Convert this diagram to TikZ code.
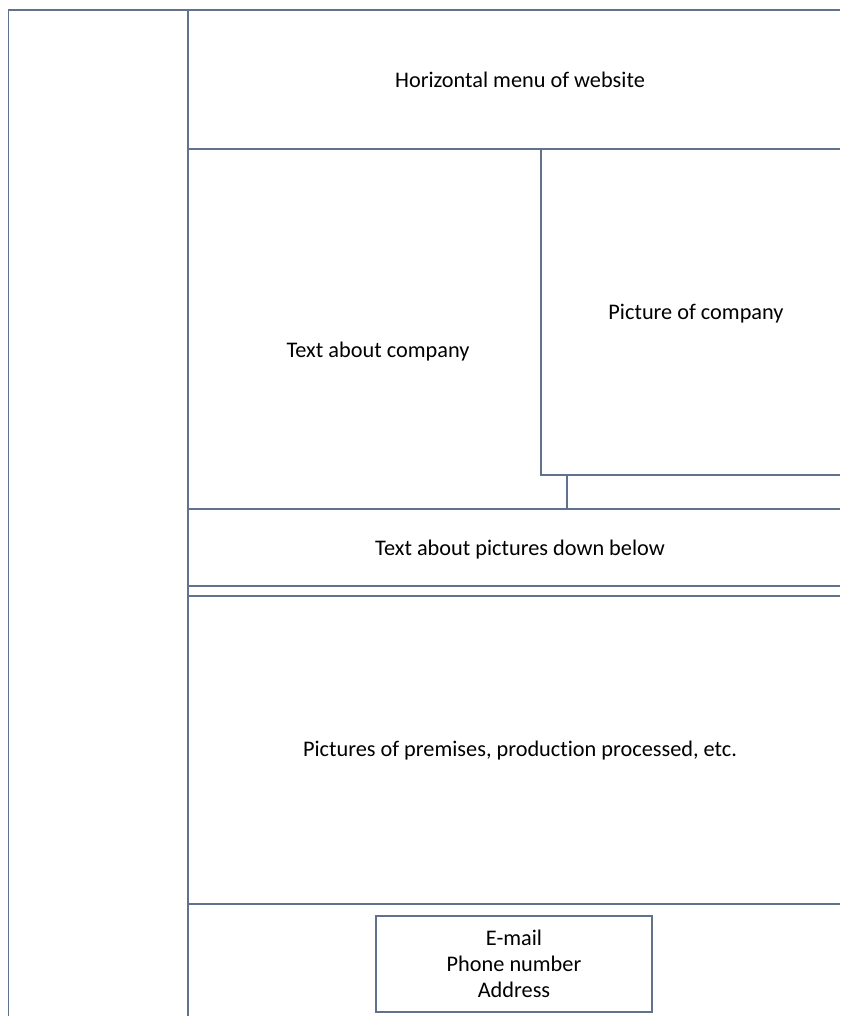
\documentclass[tikz,border=0pt]{standalone}
\usepackage{fontspec}
\setmainfont[Ligatures=NoCommon]{Carlito}
\definecolor{frame}{RGB}{96,114,140}
\begin{document}
\begin{tikzpicture}[x=1pt,y=-1pt,
  rule/.style={draw=frame,line width=1.8pt},
  label/.style={font=\fontsize{22.3}{26}\selectfont,text=black,inner sep=0pt,anchor=center},
  contactbox/.style={draw=frame,line width=1.8pt,minimum width=276pt,minimum height=96pt,align=center,font=\fontsize{22.3}{26}\selectfont,inner sep=0pt}]
  \useasboundingbox (0,0) rectangle (840,1016);
  % outer frame and sidebar
  \draw[rule] (8.5,1016) -- (8.5,10) -- (840,10);
  \draw[rule] (188,10) -- (188,1016);
  % horizontal menu
  \draw[rule] (188,149) -- (840,149);
  \node[label] (menu) at (520,80) {Horizontal menu of website};
  % picture of company
  \draw[rule] (541,149) -- (541,475) -- (840,475);
  \draw[rule] (567,475) -- (567,509);
  \node[label] (pic) at (696,314) {Picture of company};
  \node[label] (txt) at (378,352) {Text about company};
  % band describing pictures
  \draw[rule] (188,509) -- (840,509);
  \node[label] (band) at (520,550) {Text about pictures down below};
  \draw[rule] (188,586) -- (840,586);
  \draw[rule] (188,596) -- (840,596);
  % gallery
  \node[label] (gallery) at (520,751) {Pictures of premises, production processed, etc.};
  % footer with contact details
  \draw[rule] (188,904) -- (840,904);
  \node[contactbox] (contact) at (514,964) {E-mail\\Phone number\\Address};
\end{tikzpicture}
\end{document}
